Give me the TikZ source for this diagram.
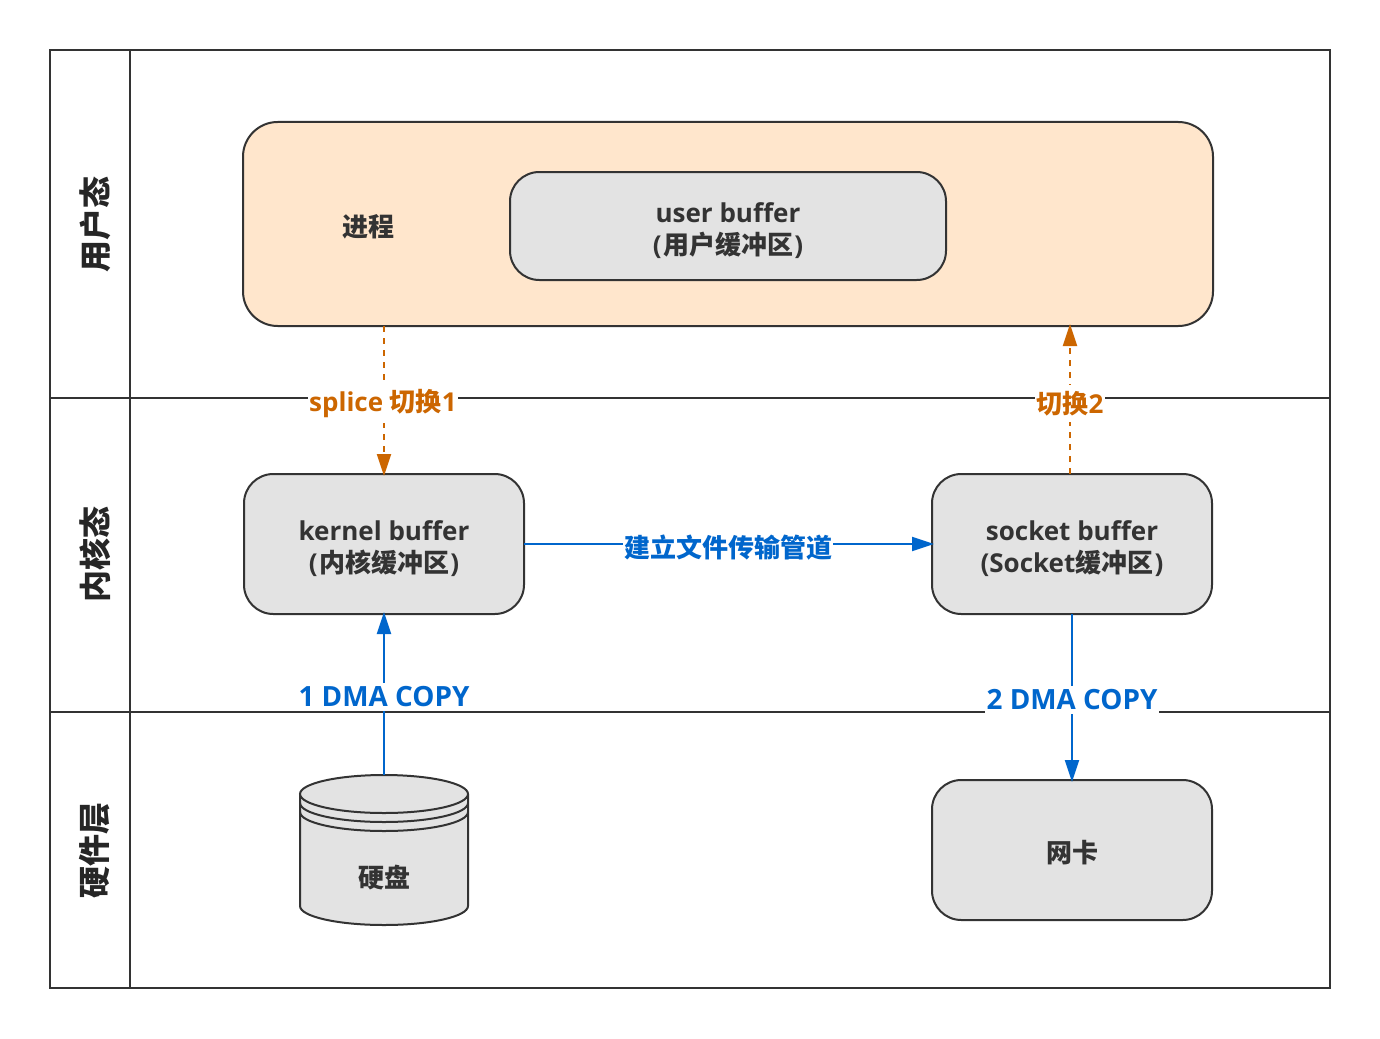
\documentclass[tikz,border=0pt]{standalone}
\usepackage{fontspec}
\setmainfont{Open Sans}
\newfontfamily\cjk{Noto Sans CJK SC}
\usetikzlibrary{arrows.meta}
\definecolor{linegray}{HTML}{333333}
\definecolor{boxgray}{HTML}{E3E3E3}
\definecolor{peach}{HTML}{FFE6CC}
\definecolor{dmablue}{HTML}{0066CC}
\definecolor{swtorange}{HTML}{CC6600}
\def\dropline{\rule{0pt}{22pt}}
\def\cnparen#1{(\kern1pt{\cjk #1}\kern1pt)}
\tikzset{
	bufbox/.style={draw=linegray, line width=1.5pt, fill=boxgray, rounded corners=22pt, align=center, text=linegray, outer sep=0pt, inner sep=0pt, font=\fontsize{19.5}{24.5}\selectfont\bfseries},
	plain/.style={text=linegray, inner sep=0pt, font=\fontsize{19.5}{24.5}\selectfont\bfseries\cjk},
	lanename/.style={text=black!85, inner sep=0pt, rotate=90, font=\fontsize{24}{28}\selectfont\bfseries\cjk},
	tag/.style={fill=white, inner xsep=1pt, inner ysep=0pt, minimum height=28pt, font=\fontsize{19.5}{24}\selectfont\bfseries},
	dmatag/.style={tag, text=dmablue, minimum height=21pt, font=\fontsize{20.9}{24}\selectfont\bfseries},
	bluearrow/.style={draw=dmablue, line width=1.5pt, shorten >=-1.5pt, -{Triangle[length=16.5pt,width=10.5pt]}},
	orangearrow/.style={draw=swtorange, line width=1.5pt, dash pattern=on 4.5pt off 4.5pt, shorten >=-1.5pt, -{Triangle[length=16.5pt,width=10.5pt]}}
}

\begin{document}
\begin{tikzpicture}[x=0.75pt, y=-0.75pt]
	%%%%% START %%%%%
	\useasboundingbox (0, 0) rectangle (1380, 1038);
	
	\draw[line width=1.5pt, draw=linegray] (50, 50) rectangle (1330, 988);
	\draw[line width=1.5pt, draw=linegray] (130, 50) -- (130, 988);
	\draw[line width=1.5pt, draw=linegray] (50, 398) -- (1330, 398);
	\draw[line width=1.5pt, draw=linegray] (50, 712) -- (1330, 712);
	
	\node[lanename] (laneuser) at (95, 224) {用户态};
	\node[lanename] (lanekernel) at (95, 554) {内核态};
	\node[lanename] (lanehw) at (95, 850) {硬件层};
	
	\node[bufbox, fill=peach, minimum width=727.5pt, minimum height=153pt, rounded corners=26pt] (proc) at (728, 224) {};
	\node[plain] (proclabel) at (368, 227) {进程};
	\node[bufbox, minimum width=327pt, minimum height=81pt] (userbuf) at (728, 226) {\dropline user buffer\\\cnparen{用户缓冲区}};
	\node[bufbox, minimum width=210pt, minimum height=105pt] (kernbuf) at (384, 544) {\dropline kernel buffer\\\cnparen{内核缓冲区}};
	\node[bufbox, minimum width=210pt, minimum height=105pt] (sockbuf) at (1072, 544) {\dropline socket buffer\\(Socket{\cjk 缓冲区}\kern1pt)};
	\node[bufbox, minimum width=210pt, minimum height=105pt] (nic) at (1072, 850) {\cjk\rule{0pt}{21pt}网卡};
	
	% disk
	\draw[line width=1.5pt, draw=linegray, fill=boxgray] (300, 794) -- (300, 906) arc (180:0:84 and 19) -- (468, 794);
	\draw[line width=1.5pt, draw=linegray, fill=boxgray] (384, 794) ellipse (84 and 19);
	\draw[line width=1.5pt, draw=linegray] (300, 803) arc (180:0:84 and 19);
	\draw[line width=1.5pt, draw=linegray] (300, 812) arc (180:0:84 and 19);
	\node[plain] (disk) at (384, 878) {硬盘};
	\coordinate (disktop) at (384, 775);
	\coordinate (procdown) at (384, 326);
	\coordinate (procup) at (1070, 326);
	\coordinate (sockup) at (1070, 474);
	
	\draw[orangearrow] (procdown) -- (kernbuf.north);
	\draw[orangearrow] (sockup) -- (procup);
	\draw[bluearrow] (kernbuf.east) -- (sockbuf.west);
	\draw[bluearrow] (disktop) -- (kernbuf.south);
	\draw[bluearrow] (sockbuf.south) -- (nic.north);
	
	\node[tag, text=swtorange] (tagsplice) at (383, 404) {splice {\cjk 切换}1};
	\node[tag, text=swtorange] (tagswitch) at (1070, 403.5) {{\cjk 切换}2};
	\node[tag, text=dmablue] (tagpipe) at (728, 548) {\cjk 建立文件传输管道};
	\node[dmatag] (tagdmaone) at (384, 696.5) {1 DMA COPY};
	\node[dmatag] (tagdmatwo) at (1072, 700) {2 DMA COPY};
	%%%%% END %%%%%
\end{tikzpicture}
\end{document}
